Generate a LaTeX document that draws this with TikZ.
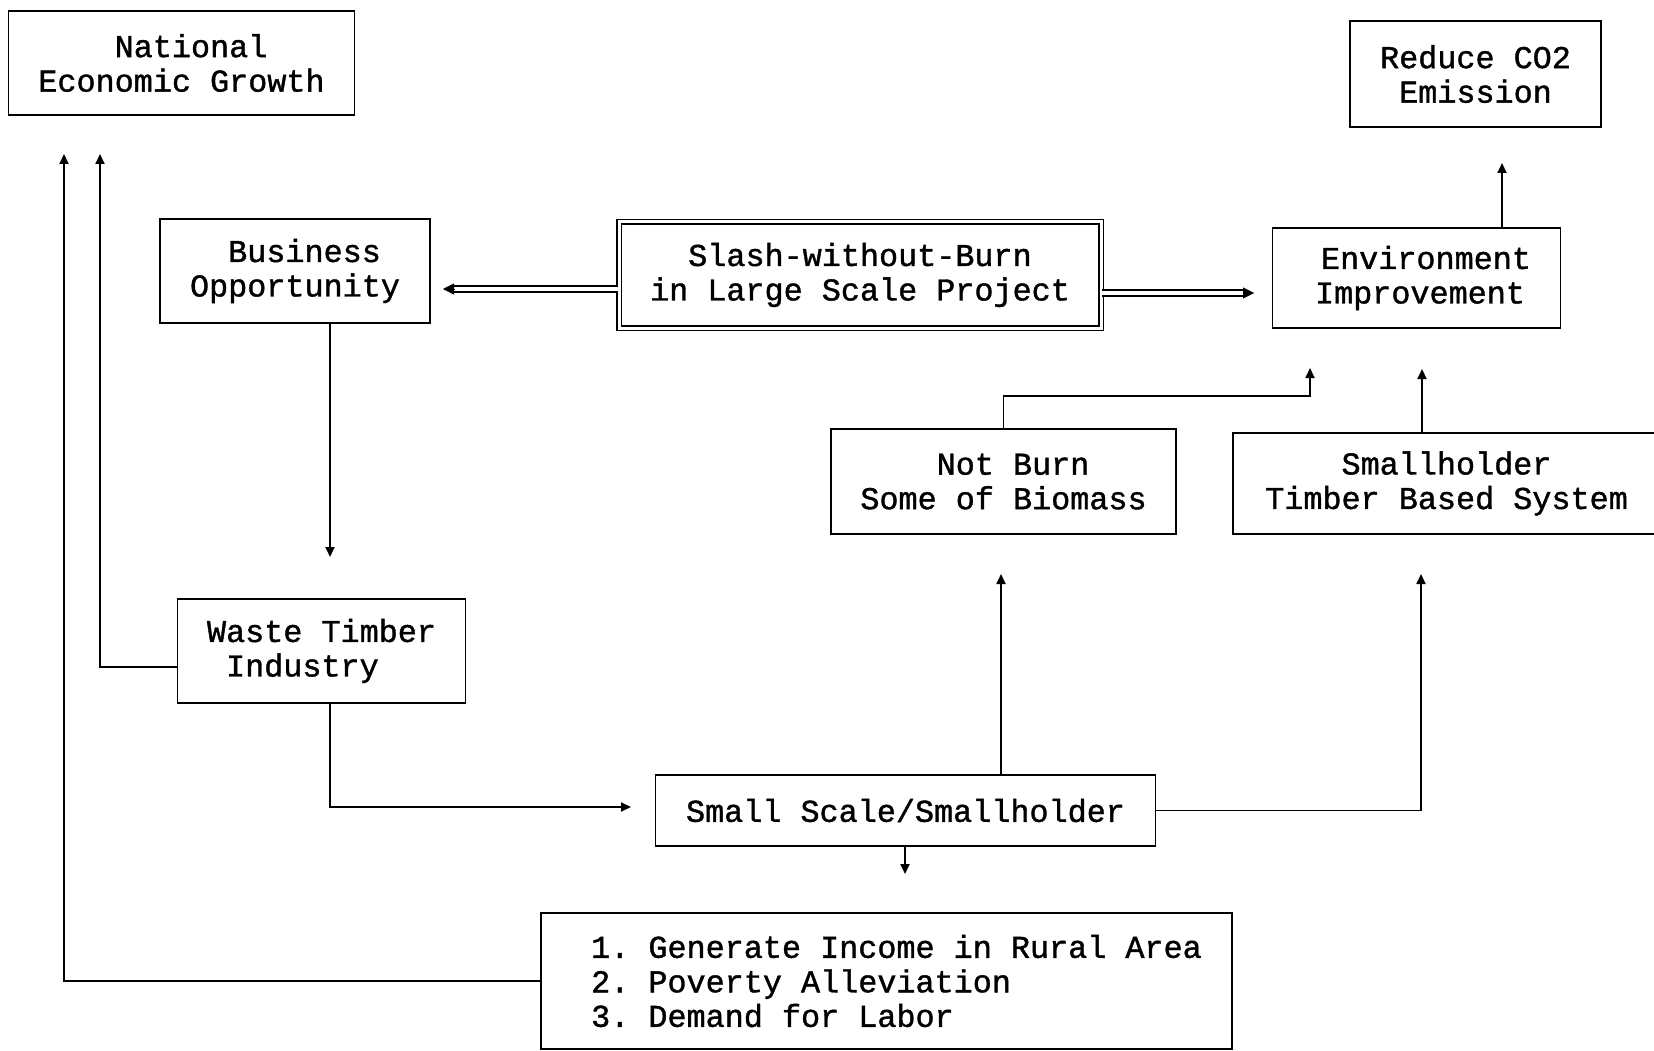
\documentclass[tikz,border=0pt]{standalone}
\usepackage{fontspec}
\setmainfont{Liberation Mono}[FakeBold=1.2]
\usetikzlibrary{arrows.meta}
\begin{document}
\frenchspacing
\begin{tikzpicture}[x=1pt,y=-1pt,
  box/.style={draw, line width=1.8pt, align=left, inner sep=0pt,
    font=\fontsize{31.8pt}{34.5pt}\selectfont\frenchspacing},
  arr/.style={line width=1.8pt, -{Triangle[length=10pt,width=9pt,sep=10pt]}},
  dbl/.style={double, double distance=4pt, line width=1.8pt},
  tipo/.style={line width=0.4pt, -{Triangle[length=11pt,width=11pt]}}]
\useasboundingbox (0,0) rectangle (1654,1051);
\fill[white] (0,0) rectangle (1654,1051);

\node[box, minimum width=346pt, minimum height=104pt] (nat) at (181.5,63)
  {\hspace*{2.4em}National\\Economic Growth};
\node[box, minimum width=251pt, minimum height=106pt] (red) at (1475.5,74)
  {Reduce CO2\\\hspace*{0.6em}Emission};
\node[box, minimum width=270pt, minimum height=104pt] (bus) at (295,271)
  {\hspace*{1.2em}Business\\Opportunity};
\node[box, double, double distance=3pt, minimum width=482pt, minimum height=106pt] (slash) at (860,275)
  {\hspace*{1.2em}Slash-without-Burn\\in Large Scale Project};
\node[box, minimum width=288pt, minimum height=100pt] (env) at (1416.5,278)
  {\hspace*{19pt}Environment\\\hspace*{13pt}Improvement};
\node[box, minimum width=345pt, minimum height=105pt] (notb) at (1003.5,481.5)
  {\hspace*{2.4em}Not Burn\\Some of Biomass};
\node[box, minimum width=427pt, minimum height=101pt] (smt) at (1446.5,483.5)
  {\hspace*{2.4em}Smallholder\\Timber Based System};
\node[box, minimum width=288pt, minimum height=104pt] (waste) at (321.5,651)
  {Waste Timber\\\hspace*{0.6em}Industry};
\node[box, minimum width=500pt, minimum height=71pt] (small) at (905.5,810.5)
  {Small Scale/Smallholder};
\node[box, minimum width=691pt, minimum height=136pt] (list) at (886.5,981)
  {\hspace*{20pt}1. Generate Income in Rural Area\\\hspace*{20pt}2. Poverty Alleviation\\\hspace*{20pt}3. Demand for Labor};

\coordinate (tA) at (64,144);
\coordinate (tB) at (100,144);
\coordinate (tC) at (330,567);
\coordinate (tD) at (443,289);
\coordinate (tE) at (1254,293);
\coordinate (tF) at (1502,153);
\coordinate (tG) at (1310,358);
\coordinate (tH) at (1422,359);
\coordinate (tI) at (1001,564);
\coordinate (tJ) at (1421,564);
\coordinate (tK) at (641,807);
\coordinate (tL) at (905,884);

\draw[arr] (list.west) -| (tA);
\draw[arr] ([yshift=-16pt]waste.west) -| (tB);
\draw[arr] (bus.south -| tC) -- (tC);
\draw[dbl, shorten >=10pt] (slash.west |- tD) -- (tD);
\draw[tipo] ([xshift=11pt]tD) -- (tD);
\draw[dbl, shorten >=10pt] (slash.east |- tE) -- (tE);
\draw[tipo] ([xshift=-11pt]tE) -- (tE);
\draw[arr] (env.north -| tF) -- (tF);
\draw[arr] (notb.north) -- ++(0,-32) -| (tG);
\draw[arr] (smt.north -| tH) -- (tH);
\draw[arr] (small.north -| tI) -- (tI);
\draw[arr] (small.east) -| (tJ);
\draw[arr] (waste.south -| tC) |- (tK);
\draw[arr] (small.south -| tL) -- (tL);
\end{tikzpicture}
\end{document}
